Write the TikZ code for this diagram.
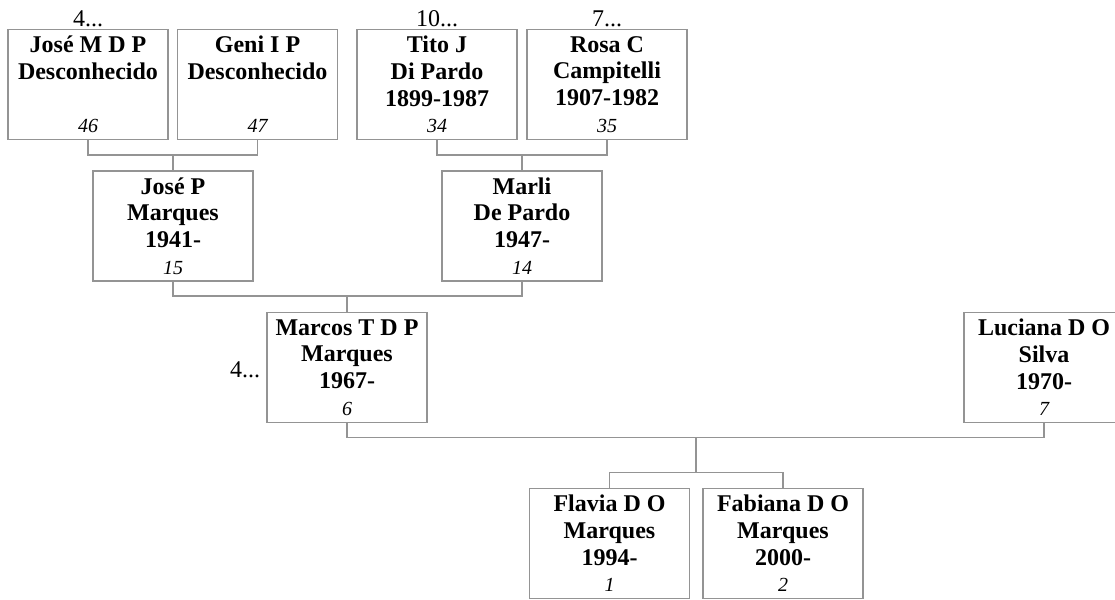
\documentclass[tikz,border=0pt]{standalone}
\usepackage{fontspec}
\setmainfont{Liberation Serif}
\usetikzlibrary{positioning}
\tikzstyle{person}=[rectangle,draw=black!42,line width=1.2pt,minimum width=160pt,minimum height=110pt,inner sep=0pt,align=center,font=\fontsize{24}{26.7}\selectfont\bfseries,execute at begin node=\rule{0pt}{22pt}]
\tikzstyle{more}=[inner sep=0pt,font=\fontsize{24}{26.7}\selectfont]
\tikzstyle{link}=[draw=black!42,line width=1.2pt]
\newcommand{\pnum}[1]{{\fontsize{20}{26.7}\selectfont\mdseries\itshape #1}}

\begin{document}
\begin{tikzpicture}[x=1pt, y=-1pt]

  \useasboundingbox (0,0) rectangle (1115,599);

  \foreach \x/\y/\name/\label in {88/84.5/p46/{José M D P\\Desconhecido\\\mbox{}\\\pnum{46}},
      257.5/84.5/p47/{Geni I P\\Desconhecido\\\mbox{}\\\pnum{47}},
      437/84.5/p34/{Tito J\\Di Pardo\\1899-1987\\\pnum{34}},
      607/84.5/p35/{Rosa C\\Campitelli\\1907-1982\\\pnum{35}},
      173/226/p15/{José P\\Marques\\1941-\\\pnum{15}},
      522/226/p14/{Marli\\De Pardo\\1947-\\\pnum{14}},
      347/367.5/p6/{Marcos T D P\\Marques\\1967-\\\pnum{6}},
      1044/367.5/p7/{Luciana D O\\Silva\\1970-\\\pnum{7}},
      609.5/543.5/p1/{Flavia D O\\Marques\\1994-\\\pnum{1}},
      783/543.5/p2/{Fabiana D O\\Marques\\2000-\\\pnum{2}}}
    \node[person] (\name) at (\x,\y) {\label};

  % more ancestors
  \node[more] (m46) [above=1.5pt of p46] {4...};
  \node[more] (m34) [above=1.5pt of p34] {10...};
  \node[more] (m35) [above=1.5pt of p35] {7...};
  \node[more] (m6) [left=6pt of p6, yshift=-2pt] {4...};

  % couples
  \coordinate (j15) at (173,155);
  \coordinate (j14) at (522,155);
  \coordinate (j6) at (347,296);
  \coordinate (j0) at (696,437.5);
  \coordinate (k0) at (696,472.5);

  \draw[link] (p46.south) |- (j15) -| (p47.south);
  \draw[link] (p34.south) |- (j14) -| (p35.south);
  \draw[link] (p15.south) |- (j6) -| (p14.south);
  \draw[link] (p6.south) |- (j0) -| (p7.south);
  \foreach \child in {15, 14, 6}
    \draw[link] (j\child) -- (p\child.north);

  % children
  \draw[link] (j0) -- (k0);
  \draw[link] (p1.north) |- (k0) -| (p2.north);

\end{tikzpicture}
\end{document}
